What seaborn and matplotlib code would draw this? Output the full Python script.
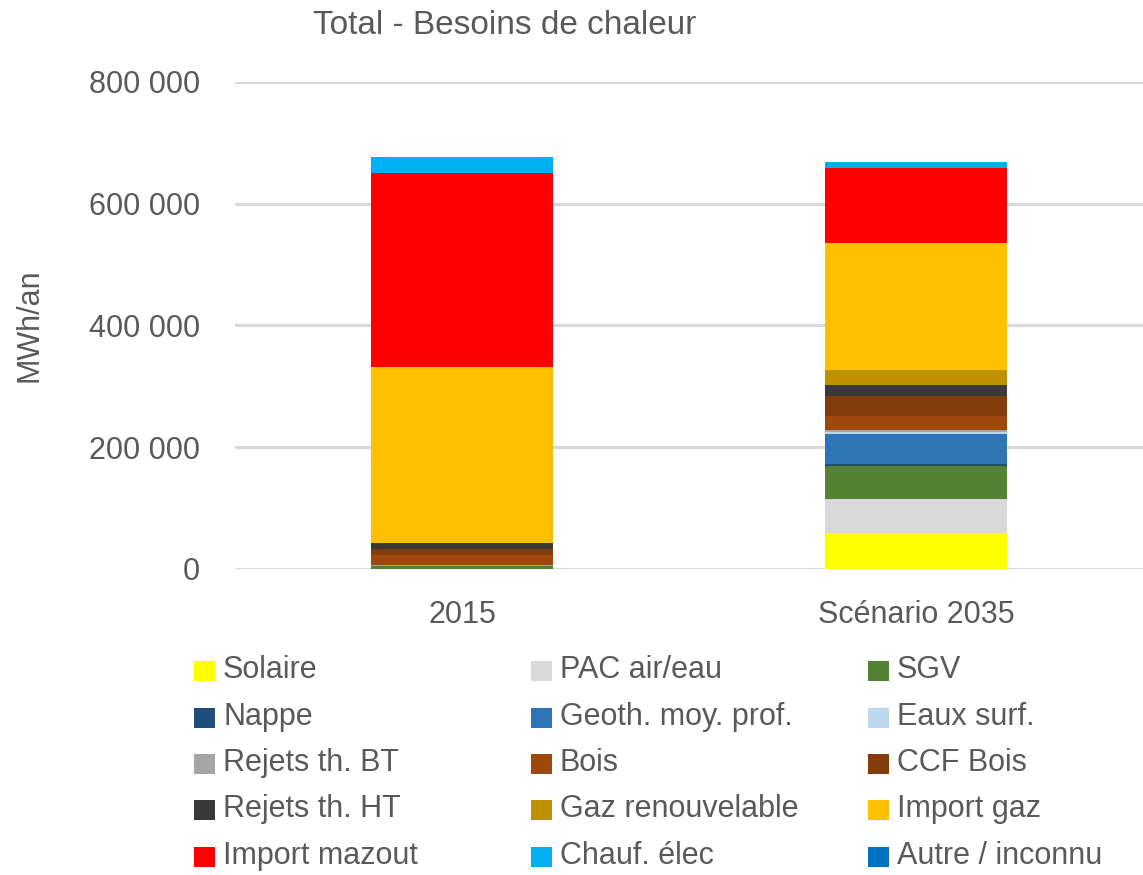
import matplotlib
matplotlib.use('Agg')
import matplotlib.pyplot as plt
from matplotlib.patches import Rectangle
from matplotlib import font_manager
import seaborn as sns
import pandas as pd
import numpy as np

# ------------------------
# Données (MWh/an)
# ------------------------
categories = ['2015', 'Scénario 2035']
sources = ['Solaire', 'PAC air/eau', 'SGV', 'Nappe', 'Geoth. moy. prof.', 'Eaux surf.',
           'Rejets th. BT', 'Bois', 'CCF Bois', 'Rejets th. HT', 'Gaz renouvelable',
           'Import gaz', 'Import mazout', 'Chauf. élec', 'Autre / inconnu']
val_2015 = [0, 0, 5000, 0, 0, 0, 1000, 17000, 10000, 9000, 0,
            290000, 318000, 27000, 0]
val_2035 = [58700, 56000, 55000, 2000, 50000, 4000, 2000, 23000, 34000, 18000, 23500,
            209000, 123000, 11000, 0]
colors = ['#FFFF00', '#D9D9D9', '#548235', '#1F4E79', '#2E75B6', '#BDD7EE',
          '#A5A5A5', '#9E480E', '#843C0C', '#3B3838', '#BF9000',
          '#FFC000', '#FF0000', '#00B0F0', '#0070C0']

# ------------------------
# Style
# ------------------------
sns.set_style('white')
names = {f.name for f in font_manager.fontManager.ttflist}
fam = 'Liberation Sans Narrow' if 'Liberation Sans Narrow' in names else 'Liberation Sans'
plt.rcParams['font.family'] = [fam, 'DejaVu Sans']
txt = '#595959'
W, H = 1143, 875

fig = plt.figure(figsize=(W / 100, H / 100), dpi=100)
ax = fig.add_axes([235 / W, 1 - 569 / H, 1 - 235 / W, (569 - 82) / H])

# piles cumulées, dessinées du haut vers le bas
cum_2015 = np.cumsum(val_2015)
cum_2035 = np.cumsum(val_2035)
for i in range(len(sources) - 1, -1, -1):
    df = pd.DataFrame({'cat': categories, 'val': [cum_2015[i], cum_2035[i]]})
    sns.barplot(data=df, x='cat', y='val', color=colors[i], width=0.40,
                linewidth=0, saturation=1, ax=ax, zorder=3)

ax.set_ylim(0, 800000)
ax.set_xlim(-0.5, 1.5)
yt = np.arange(0, 800001, 200000)
ax.set_yticks(yt)
ax.set_yticklabels([f'{int(v):,}'.replace(',', ' ') for v in yt])
ax.yaxis.grid(True, color='#D9D9D9', linewidth=2.2, zorder=0)
ax.set_axisbelow(True)
for s in ax.spines.values():
    s.set_visible(False)
ax.tick_params(axis='both', length=0, labelsize=22, labelcolor=txt)
ax.tick_params(axis='y', pad=25)
ax.tick_params(axis='x', pad=22)
ax.set_xlabel('')
ax.set_ylabel('')

fig.text(30 / W, 1 - 325 / H, 'MWh/an', rotation=90, ha='center', va='center',
         fontsize=22, color=txt)
fig.text(505 / W, 1 - 25 / H, 'Total - Besoins de chaleur', ha='center', va='center',
         fontsize=24, color=txt)

# ------------------------
# Légende (3 colonnes, ordre par ligne)
# ------------------------
col_x = [194, 531, 868]
row_y = [671, 718, 764, 810, 857]
for k, (name, c) in enumerate(zip(sources, colors)):
    r, cidx = divmod(k, 3)
    x0, yc = col_x[cidx], row_y[r]
    fig.add_artist(Rectangle((x0 / W, 1 - (yc + 10) / H), 21 / W, 20 / H,
                             transform=fig.transFigure, facecolor=c, edgecolor='none'))
    fig.text((x0 + 29) / W, 1 - (yc - 1) / H, name, ha='left', va='center',
             fontsize=22, color=txt)

plt.savefig('out.png', dpi=100)
plt.close()
